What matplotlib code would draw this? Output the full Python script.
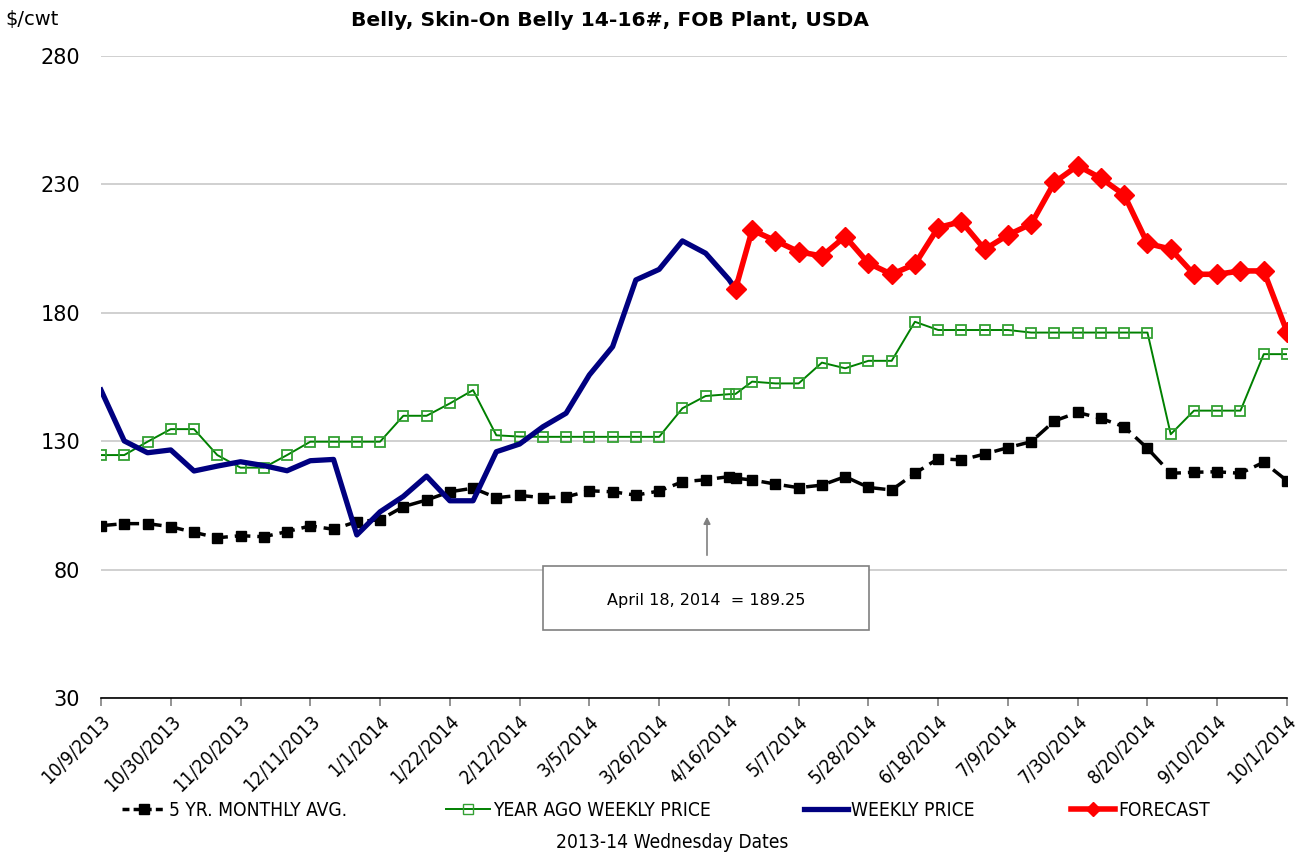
import matplotlib
matplotlib.use("Agg")
import matplotlib.pyplot as plt
from matplotlib import font_manager as fm
from matplotlib.lines import Line2D
from matplotlib.patches import Rectangle
import pandas as pd

# ---------------- data ----------------
weeks = ["2013-10-09", "2013-10-16", "2013-10-23", "2013-10-30", "2013-11-06", "2013-11-13",
         "2013-11-20", "2013-11-27", "2013-12-04", "2013-12-11", "2013-12-18", "2013-12-25",
         "2014-01-01", "2014-01-08", "2014-01-15", "2014-01-22", "2014-01-29", "2014-02-05",
         "2014-02-12", "2014-02-19", "2014-02-26", "2014-03-05", "2014-03-12", "2014-03-19",
         "2014-03-26", "2014-04-02", "2014-04-09", "2014-04-16", "2014-04-18", "2014-04-23",
         "2014-04-30", "2014-05-07", "2014-05-14", "2014-05-21", "2014-05-28", "2014-06-04",
         "2014-06-11", "2014-06-18", "2014-06-25", "2014-07-02", "2014-07-09", "2014-07-16",
         "2014-07-23", "2014-07-30", "2014-08-06", "2014-08-13", "2014-08-20", "2014-08-27",
         "2014-09-03", "2014-09-10", "2014-09-17", "2014-09-24", "2014-10-01"]

five_yr_avg = [97.1, 97.9, 97.9, 96.7, 94.5, 92.4, 93.2, 92.8, 94.8, 97.0, 95.7, 98.7,
               99.4, 104.5, 107.1, 110.3, 111.7, 108.0, 108.9, 108.0, 108.3, 110.7, 110.3, 109.0,
               110.6, 114.2, 115.0, 116.2, 115.6, 114.9, 113.3, 111.9, 112.9, 116.2, 112.0, 111.0,
               117.5, 123.2, 122.7, 125.0, 127.5, 129.8, 137.9, 141.2, 138.9, 135.6, 127.2, 117.5,
               117.9, 118.1, 117.5, 121.8, 114.6]

year_ago = [124.6, 124.6, 129.8, 134.7, 134.7, 124.6, 119.7, 119.7, 124.6, 129.8, 129.8, 129.8,
            129.8, 139.9, 139.9, 144.7, 149.9, 132.3, 131.8, 131.7, 131.7, 131.7, 131.7, 131.7,
            131.7, 142.8, 147.6, 148.3, 148.4, 153.2, 152.5, 152.5, 160.6, 158.4, 161.3, 161.3,
            176.5, 173.3, 173.3, 173.3, 173.3, 172.3, 172.3, 172.3, 172.3, 172.3, 172.3, 132.7,
            141.9, 141.9, 141.9, 163.9, 163.9]

weekly_dates = weeks[:29]
weekly_price = [149.9, 130.1, 125.5, 126.6, 118.4, 120.3, 122.0, 120.5, 118.5, 122.4, 122.9, 93.5,
                102.5, 108.5, 116.4, 106.8, 106.8, 125.9, 128.9, 135.6, 140.9, 155.8, 166.8, 192.8,
                196.9, 208.0, 203.2, 193.0, 189.25]

forecast_dates = weeks[28:]
forecast = [189.25, 212.2, 208.1, 203.8, 202.1, 209.7, 199.3, 195.0, 198.9, 213.2, 215.5, 204.7,
            210.3, 214.6, 230.8, 237.3, 232.4, 225.9, 207.0, 204.8, 195.0, 195.0, 196.3, 196.3, 172.6]

tick_dates = ["2013-10-09", "2013-10-30", "2013-11-20", "2013-12-11", "2014-01-01", "2014-01-22",
              "2014-02-12", "2014-03-05", "2014-03-26", "2014-04-16", "2014-05-07", "2014-05-28",
              "2014-06-18", "2014-07-09", "2014-07-30", "2014-08-20", "2014-09-10", "2014-10-01"]
tick_labels = ["10/9/2013", "10/30/2013", "11/20/2013", "12/11/2013", "1/1/2014", "1/22/2014",
               "2/12/2014", "3/5/2014", "3/26/2014", "4/16/2014", "5/7/2014", "5/28/2014",
               "6/18/2014", "7/9/2014", "7/30/2014", "8/20/2014", "9/10/2014", "10/1/2014"]
y_ticks = [30, 80, 130, 180, 230, 280]

title = "Belly, Skin-On Belly 14-16#, FOB Plant, USDA"
annot_text = "April 18, 2014  = 189.25"

# ---------------- fonts ----------------
names = {f.name for f in fm.fontManager.ttflist}
cond_dejavu = any(f.name == "DejaVu Sans" and str(f.stretch) in ("condensed", "semi-condensed")
                  for f in fm.fontManager.ttflist)
if "Liberation Sans Narrow" in names:
    NARROW = dict(family=["Liberation Sans Narrow", "DejaVu Sans"])
    nscale = 1.0
elif cond_dejavu:
    NARROW = dict(family=["DejaVu Sans"], stretch="condensed")
    nscale = 0.95
else:
    NARROW = dict(family=["DejaVu Sans"])
    nscale = 0.82
plt.rcParams['font.family'] = ["DejaVu Sans"]

C_BLACK = "#000000"
C_GREEN = "#008000"
C_GREEN_M = "#33a033"
C_BLUE = "#000080"
C_RED = "#ff0000"

fig = plt.figure(figsize=(12.99, 8.57), dpi=100)
ax = fig.add_axes([101 / 1299, 1 - 698 / 857, (1287 - 101) / 1299, (698 - 56) / 857])

wd = pd.to_datetime(weeks)
ax.plot(wd, five_yr_avg, color=C_BLACK, lw=2.5, ls=(0, (4.5, 2.0)), marker='s', ms=7,
        mfc=C_BLACK, mec=C_BLACK, zorder=3)
ax.plot(wd, year_ago, color=C_GREEN, lw=1.4, marker='s', ms=7.5, mfc='none', mec=C_GREEN_M,
        mew=1.3, zorder=4)
ax.plot(pd.to_datetime(weekly_dates), weekly_price, color=C_BLUE, lw=3.8, zorder=5)
ax.plot(pd.to_datetime(forecast_dates), forecast, color=C_RED, lw=4.0, marker='D', ms=10,
        mfc=C_RED, mec=C_RED, zorder=6)

ax.set_xlim(pd.Timestamp("2013-10-09"), pd.Timestamp("2014-10-01"))
ax.set_ylim(30, 280)
ax.set_yticks(y_ticks)
ax.set_yticklabels([str(v) for v in y_ticks], fontsize=15)
ax.yaxis.grid(True, color="#c8c8c8", lw=1.2)
ax.set_axisbelow(True)
ax.tick_params(axis='y', length=0, pad=15)

ax.set_xticks(pd.to_datetime(tick_dates))
ax.set_xticklabels(tick_labels, rotation=45, ha='right', va='top', rotation_mode='anchor',
                   fontsize=14.5 * nscale, **NARROW)
ax.tick_params(axis='x', length=6, color="#808080", width=1.2, pad=4)

for s in ['left', 'right', 'top']:
    ax.spines[s].set_visible(False)
ax.spines['bottom'].set_color("#000000")
ax.spines['bottom'].set_linewidth(1.2)

# annotation box and arrow (figure coordinates)
fig.patches.append(Rectangle((543 / 1299, 1 - 630 / 857), (869 - 543) / 1299, (630 - 566) / 857,
                             transform=fig.transFigure, fill=True, facecolor='white',
                             edgecolor="#808080", lw=1.2, zorder=10))
fig.text(706 / 1299, 1 - 601 / 857, annot_text, ha='center', va='center', fontsize=11.5,
         zorder=11)
ax.annotate("", xy=(707 / 1299, 1 - 514 / 857), xycoords='figure fraction',
            xytext=(707 / 1299, 1 - 558 / 857), textcoords='figure fraction',
            arrowprops=dict(arrowstyle='-|>', color="#808080", lw=1.2, mutation_scale=10))

# titles
fig.text(610 / 1299, 1 - 20 / 857, title, ha='center', va='center', fontsize=14.6,
         fontweight='bold')
fig.text(5 / 1299, 1 - 20 / 857, "$/cwt", ha='left', va='center', fontsize=14)
fig.text(672 / 1299, 1 - 843 / 857, "2013-14 Wednesday Dates", ha='center', va='center',
         fontsize=14.5 * nscale, **NARROW)

# legend: four entries placed separately
handles = [
    (Line2D([], [], color=C_BLACK, lw=2.5, ls=(0, (2.0, 1.2)), marker='s', ms=7), "5 YR. MONTHLY AVG.", 122),
    (Line2D([], [], color=C_GREEN, lw=1.4, marker='s', ms=7, mfc='none', mec=C_GREEN_M), "YEAR AGO WEEKLY PRICE", 446),
    (Line2D([], [], color=C_BLUE, lw=3.8), "WEEKLY PRICE", 804),
    (Line2D([], [], color=C_RED, lw=4.0, marker='D', ms=7), "FORECAST", 1071),
]
leg_font = fm.FontProperties(size=14.5 * nscale, **NARROW)
for h, lab, xp in handles:
    fig.legend([h], [lab], loc='center left', bbox_to_anchor=(xp / 1299, 1 - 810 / 857),
               frameon=False, prop=leg_font, handlelength=2.3, handletextpad=0.15,
               borderpad=0, borderaxespad=0)

fig.savefig("out.png", dpi=100)
